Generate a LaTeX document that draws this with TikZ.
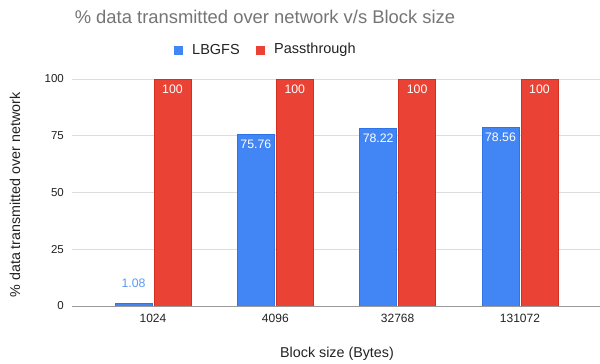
\documentclass[tikz,border=0pt]{standalone}
\usepackage{fontspec}
\setmainfont{Liberation Sans}
\definecolor{lbgfs}{HTML}{4285F4}
\definecolor{lbgfsedge}{HTML}{2F74E6}
\definecolor{pass}{HTML}{EA4335}
\definecolor{passedge}{HTML}{D3301F}
\definecolor{gridgray}{HTML}{DDDDDD}
\definecolor{axisgray}{HTML}{999999}
\definecolor{titlegray}{HTML}{757575}
\definecolor{labelgray}{HTML}{222222}
\definecolor{valblue}{HTML}{5C9AF6}
\tikzset{
  gridline/.style={draw=gridgray, line width=1pt},
  axisline/.style={draw=axisgray, line width=1pt},
  bluebar/.style={fill=lbgfs, draw=lbgfsedge, line width=0.6pt},
  redbar/.style={fill=pass, draw=passedge, line width=0.6pt},
  ticklabel/.style={text=labelgray, font=\fontsize{11.5}{13}\selectfont, inner sep=0pt},
  valin/.style={text=white, font=\fontsize{12.3}{14}\selectfont, inner sep=0pt},
  valout/.style={text=valblue, font=\fontsize{12.3}{14}\selectfont, inner sep=0pt},
  axistitle/.style={text=labelgray, font=\fontsize{14.3}{16}\selectfont, inner sep=0pt},
  legendtext/.style={text=labelgray, font=\fontsize{14.5}{16}\selectfont, inner sep=0pt, anchor=west},
}
\begin{document}
\begin{tikzpicture}[x=1pt, y=-1pt]
  \useasboundingbox (0,0) rectangle (600,364);
  \fill[white] (0,0) rectangle (600,364);

  % title
  \node[text=titlegray, font=\fontsize{18.4}{20}\selectfont, inner sep=0pt] (title) at (265,17)
    {\% data transmitted over network v/s Block size};

  % legend
  \fill[lbgfs] (174,45.5) rectangle (183,54.5);
  \node[legendtext] (legblue) at (192,50) {LBGFS};
  \fill[pass] (256,45.5) rectangle (265,54.5);
  \node[legendtext] (legred) at (274,50) {Passthrough};

  % horizontal grid and value-axis labels (0 -> y=306, 100 -> y=79)
  \foreach \v in {25,50,75,100} {
    \draw[gridline] (72,{306-2.27*\v}) -- (600,{306-2.27*\v});
  }
  \foreach \v in {0,25,50,75,100} {
    \node[ticklabel, anchor=east] (ytick\v) at (64,{306-2.27*\v}) {\v};
  }

  % bars
  \foreach \i/\lab/\b/\ly/\lst in {0/1024/1.08/283/valout,
                                  1/4096/75.76/144/valin,
                                  2/32768/78.22/138/valin,
                                  3/131072/78.56/137/valin} {
    \pgfmathsetmacro\c{153+122.33*\i}
    \filldraw[bluebar] ({\c-38},306) rectangle ({\c-1},{306-2.27*\b});
    \filldraw[redbar] ({\c+1},306) rectangle ({\c+38},79);
    \node[\lst] (valb\i) at ({\c-19.5},\ly) {\b};
    \node[valin] (valp\i) at ({\c+19.5},89) {100};
    \node[ticklabel, font=\fontsize{12}{14}\selectfont] (xtick\i) at (\c,318) {\lab};
  }

  % baseline
  \draw[axisline] (72,306) -- (600,306);

  % axis titles
  \node[axistitle] (xtitle) at (337,354) {Block size (Bytes)};
  \node[axistitle, rotate=90] (ytitle) at (15,195) {\% data transmitted over network};
\end{tikzpicture}
\end{document}
